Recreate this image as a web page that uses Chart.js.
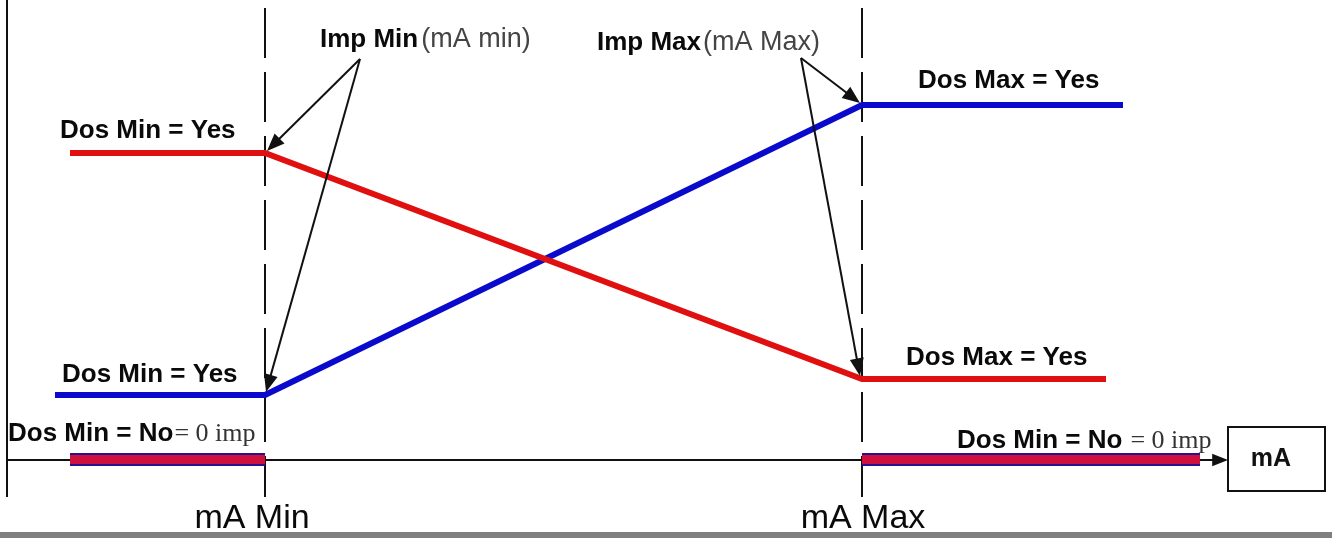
<!DOCTYPE html>
<html>
<head>
<meta charset="utf-8">
<script src="https://cdn.jsdelivr.net/npm/chart.js@4.4.1/dist/chart.umd.min.js"></script>
<style>
  html, body { margin: 0; padding: 0; background: #ffffff; }
  #wrap { width: 1332px; height: 538px; position: relative; }
</style>
</head>
<body>
<div id="wrap"><canvas id="diagram" width="1332" height="538"></canvas></div>
<script>
// values (x along mA axis, y = imp above the base line)
const redX = [70, 265, 862, 1106]
const redY = [307, 307, 81, 81]
const blueX = [55, 265, 862, 1123]
const blueY = [65, 65, 355, 355]
const zeroLeftX = [70, 265]
const zeroRightX = [862, 1200]
const zeroY = [0.5, 0.5]
const markX = [265, 862]          // mA Min, mA Max
const markLabels = ['mA Min', 'mA Max']

const pts = (xs, ys) => xs.map((x, i) => ({x: x, y: ys[i]}))

const line = (data, color, width, order) => ({
    data: data,
    borderColor: color,
    borderWidth: width,
    pointRadius: 0,
    tension: 0,
    fill: false,
    borderCapStyle: 'butt',
    order: order
})

const arrow = (ctx, x1, y1, x2, y2, size) => {
    const a = Math.atan2(y2 - y1, x2 - x1)
    ctx.beginPath()
    ctx.moveTo(x1, y1)
    ctx.lineTo(x2 - Math.cos(a) * size * 0.8, y2 - Math.sin(a) * size * 0.8)
    ctx.stroke()
    ctx.beginPath()
    ctx.moveTo(x2, y2)
    ctx.lineTo(x2 - size * Math.cos(a - 0.38), y2 - size * Math.sin(a - 0.38))
    ctx.lineTo(x2 - size * Math.cos(a + 0.38), y2 - size * Math.sin(a + 0.38))
    ctx.closePath()
    ctx.fill()
}

const text = (ctx, str, x, y, font, color) => {
    ctx.font = font
    ctx.fillStyle = color
    ctx.fillText(str, x, y)
    return x + ctx.measureText(str).width
}

const bold = 'bold 26px "Liberation Sans", Arial, sans-serif'
const plain = '27px "Liberation Sans", Arial, sans-serif'
const serif = '26px "Liberation Serif", "Times New Roman", serif'

const diagramPlugin = {
    id: 'diagram',
    beforeDatasetsDraw(chart) {
        const ctx = chart.ctx
        const xs = chart.scales.x, ys = chart.scales.y
        const base = ys.getPixelForValue(0)
        ctx.save()
        ctx.strokeStyle = '#111'
        ctx.fillStyle = '#111'
        // left axis
        ctx.lineWidth = 2
        ctx.beginPath()
        ctx.moveTo(7, 0)
        ctx.lineTo(7, 497)
        ctx.stroke()
        // base axis with arrow to the mA box
        ctx.lineWidth = 2
        arrow(ctx, 7, base, 1228, base, 17)
        // dashed markers
        ctx.lineWidth = 2
        ctx.setLineDash([50, 14])
        markX.forEach(m => {
            const px = xs.getPixelForValue(m)
            ctx.beginPath()
            ctx.moveTo(px, 8)
            ctx.lineTo(px, 497)
            ctx.stroke()
        })
        ctx.setLineDash([])
        ctx.restore()
    },
    afterDatasetsDraw(chart) {
        const ctx = chart.ctx
        const xs = chart.scales.x, ys = chart.scales.y
        const px = v => xs.getPixelForValue(v)
        const py = v => ys.getPixelForValue(v)
        ctx.save()
        ctx.textBaseline = 'alphabetic'

        // mA box
        ctx.fillStyle = '#fff'
        ctx.fillRect(1228, 427, 97, 64)
        ctx.strokeStyle = '#111'
        ctx.lineWidth = 2
        ctx.strokeRect(1228, 427, 97, 64)
        ctx.textAlign = 'center'
        text(ctx, 'mA', 1271, 466, 'bold 25px "Liberation Sans", Arial, sans-serif', '#111')
        ctx.textAlign = 'left'

        // arrows from the Imp labels
        ctx.strokeStyle = '#111'
        ctx.fillStyle = '#111'
        ctx.lineWidth = 2
        arrow(ctx, 360, 59, px(redX[1]) + 2, py(redY[1]) - 2, 19)
        arrow(ctx, 360, 59, px(blueX[1]) + 1, py(blueY[1]) - 3, 19)
        arrow(ctx, 801, 58, px(blueX[2]) - 2, py(blueY[2]) - 2, 19)
        arrow(ctx, 801, 58, px(redX[2]) - 2, py(redY[2]) - 3, 19)

        // labels
        const dark = '#0a0a0a'
        text(ctx, 'Dos Min = Yes', 60, 138, bold, dark)
        text(ctx, 'Dos Min = Yes', 62, 382, bold, dark)
        let e = text(ctx, 'Dos Min = No', 8, 441, bold, dark)
        text(ctx, '= 0 imp', e + 1, 441, serif, '#333')
        text(ctx, 'Dos Max = Yes', 918, 88, bold, dark)
        text(ctx, 'Dos Max = Yes', 906, 365, bold, dark)
        e = text(ctx, 'Dos Min = No', 957, 448, bold, dark)
        text(ctx, '= 0 imp', e + 8, 448, serif, '#333')

        e = text(ctx, 'Imp Min', 320, 47, bold, dark)
        text(ctx, '(mA min)', e + 3, 47, plain, '#444')
        e = text(ctx, 'Imp Max', 597, 50, bold, dark)
        text(ctx, '(mA Max)', e + 2, 50, plain, '#444')

        const big = '34px "Liberation Sans", Arial, sans-serif'
        ctx.textAlign = 'center'
        markX.forEach((m, i) => text(ctx, markLabels[i], px(m) - 13 + i * 14, 528, big, dark))

        // bottom grey bar
        ctx.fillStyle = '#7f7f7f'
        ctx.fillRect(0, 532, 1332, 6)
        ctx.restore()
    }
}

new Chart(document.getElementById('diagram'), {
    type: 'line',
    data: {
        datasets: [
            line(pts(redX, redY), '#e01010', 6, 2),
            line(pts(blueX, blueY), '#0a0acc', 6, 3),
            line(pts(zeroLeftX, zeroY), '#d0103c', 9, 1),
            line(pts(zeroLeftX, zeroY), '#2a1090', 13, 4),
            line(pts(zeroRightX, zeroY), '#d0103c', 9, 1),
            line(pts(zeroRightX, zeroY), '#2a1090', 13, 4)
        ]
    },
    plugins: [diagramPlugin],
    options: {
        responsive: false,
        animation: false,
        layout: { padding: 0 },
        plugins: {
            legend: { display: false },
            tooltip: { enabled: false }
        },
        scales: {
            x: { type: 'linear', min: 0, max: 1332, display: false },
            y: { type: 'linear', min: -78, max: 460, display: false }
        }
    }
});
</script>
</body>
</html>
